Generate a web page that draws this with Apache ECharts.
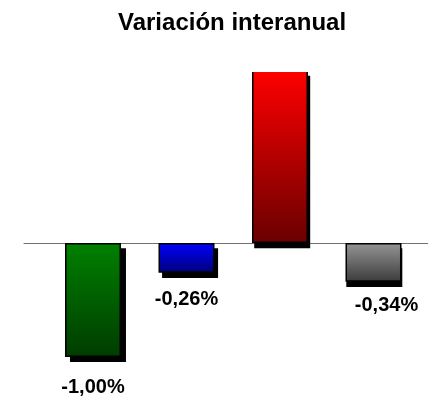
<!DOCTYPE html>
<html>
<head>
<meta charset="utf-8">
<script src="https://cdn.jsdelivr.net/npm/echarts@6/dist/echarts.min.js"></script>
<style>html,body{margin:0;padding:0;background:#fff;}#c{width:428px;height:396px;}</style>
</head>
<body>
<div id="c"></div>
<script>
const titleText = 'Variación interanual';
const positions = [1, 2, 3, 4];
const values = [-1.00, -0.26, 1.52, -0.34];
const labels = ['-1,00%', '-0,26%', '', '-0,34%'];
const topColors = ['#008000', '#0000ff', '#ff0000', '#959595'];
const bottomColors = ['#003c00', '#00007a', '#6a0000', '#3c3c3c'];
const labelDistance = [20, 17, 0, 14];
const labelShiftX = [0, 0, 0, 13];

const FONT = 'Liberation Sans, Arial, sans-serif';
const chart = echarts.init(document.getElementById('c'), null, {renderer: 'canvas'});

const mainData = values.map((v, i) => ({
  value: [positions[i], v],
  itemStyle: {
    color: new echarts.graphic.LinearGradient(0, 0, 0, 1, [
      {offset: 0, color: topColors[i]},
      {offset: 1, color: bottomColors[i]}
    ])
  },
  label: {show: labels[i] !== '', formatter: labels[i], distance: labelDistance[i], offset: [labelShiftX[i], 0]}
}));
const shadowData = values.map((v, i) => [positions[i], v]);

const hiddenAxis = {axisLine: {show: false}, axisTick: {show: false}, axisLabel: {show: false}, splitLine: {show: false}};

chart.setOption({
  animation: false,
  title: {
    text: titleText, left: 118, top: 11, padding: 0, z: 10,
    textStyle: {fontFamily: FONT, fontWeight: 'bold', fontSize: 24, color: '#000'}
  },
  // plot-area clipping above the grid (bars running past the top have no top edge)
  graphic: [{
    type: 'rect', z: 8, silent: true,
    shape: {x: 0, y: 0, width: 428, height: 72},
    style: {fill: '#ffffff'}
  }],
  grid: [
    {left: 24, top: 72, width: 404, height: 319.2},
    {left: 30, top: 72, width: 404, height: 325.2}
  ],
  xAxis: [
    Object.assign({}, hiddenAxis, {
      type: 'value', gridIndex: 0, min: 0.262, max: 4.583,
      axisLine: {show: true, onZero: true, lineStyle: {color: '#707070', width: 1}}
    }),
    Object.assign({}, hiddenAxis, {type: 'value', gridIndex: 1, min: 0.262, max: 4.583})
  ],
  yAxis: [
    Object.assign({}, hiddenAxis, {type: 'value', gridIndex: 0, min: -1.3, max: 1.5}),
    Object.assign({}, hiddenAxis, {type: 'value', gridIndex: 1, min: -1.3, max: 1.5526})
  ],
  series: [
    {
      name: 'shadow', type: 'bar', xAxisIndex: 1, yAxisIndex: 1, z: 1,
      barWidth: 56, clip: true, data: shadowData,
      itemStyle: {color: '#000'}, silent: true
    },
    {
      name: 'values', type: 'bar', xAxisIndex: 0, yAxisIndex: 0, z: 2,
      barWidth: 56, clip: false, data: mainData,
      itemStyle: {borderColor: '#000', borderWidth: 1.5},
      label: {position: 'bottom', fontFamily: FONT, fontWeight: 'bold', fontSize: 20, color: '#000'}
    }
  ]
});
</script>
</body>
</html>
